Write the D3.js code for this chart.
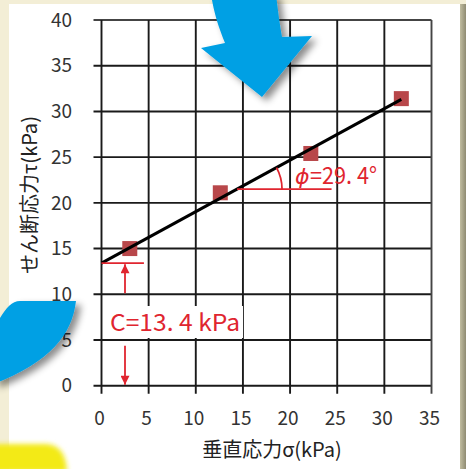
<!DOCTYPE html>
<html>
<head>
<meta charset="utf-8">
<script src="https://cdn.jsdelivr.net/npm/d3@7"></script>
<style>
  html, body { margin: 0; padding: 0; background: #f3eed6; }
  svg { display: block; }
</style>
</head>
<body>
<script>
// Direct shear test results: normal stress σ vs shear stress τ (kPa)
const sigma = [3.0, 12.6, 22.2, 31.8];
const tau = [15.0, 21.1, 25.4, 31.4];
// Mohr–Coulomb strength parameters
const cohesion = 13.4;
const phiDeg = 29.4;
const xTicks = [0, 5, 10, 15, 20, 25, 30, 35];
const yTicks = [0, 5, 10, 15, 20, 25, 30, 35, 40];
const xLabel = "垂直応力σ(kPa)";
const yLabel = "せん断応力τ(kPa)";
const phiSymbol = "ϕ";
const phiValue = "=29. 4°";
const cLabel = "C=13. 4 kPa";

const W = 466, H = 469;
const svg = d3.select("body").append("svg").attr("width", W).attr("height", H);
const defs = svg.append("defs");

const shadow = defs.append("filter").attr("id", "shadow")
  .attr("x", "-30%").attr("y", "-30%").attr("width", "170%").attr("height", "170%");
shadow.append("feDropShadow").attr("dx", 5).attr("dy", 4)
  .attr("stdDeviation", 3.5).attr("flood-color", "#000").attr("flood-opacity", 0.45);

const soft = defs.append("filter").attr("id", "soft")
  .attr("x", "-20%").attr("y", "-20%").attr("width", "140%").attr("height", "140%");
soft.append("feGaussianBlur").attr("stdDeviation", 2.5);

const edge = defs.append("linearGradient").attr("id", "edge");
edge.append("stop").attr("offset", "0%").attr("stop-color", "#c9c5a8");
edge.append("stop").attr("offset", "100%").attr("stop-color", "#8f8b72");

// page background and white panel
svg.append("rect").attr("width", W).attr("height", H).attr("fill", "#f3eed6");
svg.append("rect").attr("x", 459).attr("y", 4).attr("width", 7).attr("height", H - 4).attr("fill", "url(#edge)");
svg.append("rect").attr("x", 9).attr("y", 4).attr("width", 451).attr("height", H - 4).attr("fill", "#ffffff");

const x = d3.scaleLinear().domain([0, 35]).range([101.5, 431.5]);
const y = d3.scaleLinear().domain([0, 40]).range([385.7, 20]);

const font = "'Noto Sans CJK JP', 'Noto Sans', sans-serif";
const gridColor = "#1a1a1a";

// grid
const grid = svg.append("g");
grid.selectAll("line.h").data(yTicks).join("line")
  .attr("x1", x(0) - 8).attr("x2", x(35))
  .attr("y1", d => y(d)).attr("y2", d => y(d))
  .attr("stroke", (d) => d === 40 ? "#444" : gridColor).attr("stroke-width", 1.9);
grid.selectAll("line.v").data(xTicks).join("line")
  .attr("x1", d => x(d)).attr("x2", d => x(d))
  .attr("y1", y(40)).attr("y2", y(0) + 8)
  .attr("stroke", (d) => d === 35 ? "#444" : gridColor).attr("stroke-width", 1.9);

// tick labels
svg.append("g").selectAll("text").data(yTicks).join("text")
  .attr("x", 72).attr("y", d => y(d)).attr("dy", "0.35em")
  .attr("text-anchor", "end").attr("font-family", font).attr("font-size", 19)
  .attr("fill", "#333").text(d => d);
svg.append("g").selectAll("text").data(xTicks).join("text")
  .attr("x", d => x(d) - 2).attr("y", 418).attr("dy", "0.35em")
  .attr("text-anchor", "middle").attr("font-family", font).attr("font-size", 19)
  .attr("fill", "#333").text(d => d);

// axis titles
svg.append("text").attr("x", 272).attr("y", 450).attr("dy", "0.35em")
  .attr("text-anchor", "middle").attr("font-family", font).attr("font-size", 20)
  .attr("fill", "#222").text(xLabel);
svg.append("text").attr("transform", "translate(30,195) rotate(-90)").attr("dy", "0.35em")
  .attr("text-anchor", "middle").attr("font-family", font).attr("font-size", 20)
  .attr("fill", "#222").text(yLabel);

// test data points
svg.append("g").selectAll("rect").data(sigma.map((s, i) => [s, tau[i]])).join("rect")
  .attr("x", d => x(d[0]) - 7.5).attr("y", d => y(d[1]) - 7.5)
  .attr("width", 15).attr("height", 15).attr("fill", "#b8474a");

// failure envelope τ = c + σ tanφ
const tanPhi = Math.tan(phiDeg * Math.PI / 180);
const env = (s) => cohesion + s * tanPhi;
const lineGen = d3.line().x(d => x(d)).y(d => y(env(d)));
svg.append("path").datum([0, sigma[sigma.length - 1]])
  .attr("d", lineGen).attr("fill", "none").attr("stroke", "#000").attr("stroke-width", 3);

const red = "#e0252f";

// friction angle marker
const tauRef = 21.5;
const sRef = (tauRef - cohesion) / tanPhi;
const vx = x(sRef), vy = y(tauRef);
svg.append("line").attr("x1", vx).attr("x2", x(24.4)).attr("y1", vy).attr("y2", vy)
  .attr("stroke", red).attr("stroke-width", 1.8);
const pixAngle = Math.atan2(y(env(sRef)) - y(env(sRef + 10)), x(sRef + 10) - x(sRef));
const r = 45;
svg.append("path")
  .attr("d", `M${vx + r},${vy} A${r},${r} 0 0 0 ${vx + r * Math.cos(pixAngle)},${vy - r * Math.sin(pixAngle)}`)
  .attr("fill", "none").attr("stroke", red).attr("stroke-width", 1.8);
svg.append("text").attr("x", 295).attr("y", 184)
  .attr("font-family", "'DejaVu Sans', sans-serif").attr("font-style", "italic")
  .attr("font-size", 22).attr("fill", red).text(phiSymbol);
svg.append("text").attr("x", 310).attr("y", 184)
  .attr("font-family", font).attr("font-size", 23).attr("fill", red)
  .attr("textLength", 67).attr("lengthAdjust", "spacingAndGlyphs").text(phiValue);

// cohesion marker
svg.append("line").attr("x1", x(0)).attr("x2", x(4.5)).attr("y1", y(cohesion)).attr("y2", y(cohesion))
  .attr("stroke", red).attr("stroke-width", 1.8);
const ax = 125;
defs.append("marker").attr("id", "ah").attr("viewBox", "0 0 10 10")
  .attr("refX", 10).attr("refY", 5).attr("markerWidth", 11).attr("markerHeight", 9)
  .attr("markerUnits", "userSpaceOnUse").attr("orient", "auto")
  .append("path").attr("d", "M0,0 L10,5 L0,10 Z").attr("fill", red);
svg.append("line").attr("x1", ax).attr("x2", ax).attr("y1", y(cohesion) + 30).attr("y2", y(cohesion) + 1)
  .attr("stroke", red).attr("stroke-width", 1.8).attr("marker-end", "url(#ah)");
svg.append("line").attr("x1", ax).attr("x2", ax).attr("y1", y(0) - 40).attr("y2", y(0) - 1)
  .attr("stroke", red).attr("stroke-width", 1.8).attr("marker-end", "url(#ah)");
svg.append("rect").attr("x", 107).attr("y", 306).attr("width", 136).attr("height", 32).attr("fill", "#fff");
svg.append("text").attr("x", 110).attr("y", 331)
  .attr("font-family", font).attr("font-size", 23).attr("fill", red)
  .attr("textLength", 130).attr("lengthAdjust", "spacingAndGlyphs").text(cLabel);

// decorative overlays
const blue = "#05a0e4";
svg.append("path")
  .attr("d", "M211,-6 L276,-6 C278,12 280,26 282,37 L312,36 L262,97 L201,48 L225,43 C219,28 214,14 211,-6 Z")
  .attr("fill", blue).attr("filter", "url(#shadow)");
svg.append("path")
  .attr("d", "M-6,318 L0,318 C6,308 12,301 20,301 L76,301 C72,335 50,362 -6,384 Z")
  .attr("fill", blue).attr("filter", "url(#shadow)");
svg.append("path")
  .attr("d", "M-6,444 L44,444 C58,444 66,452 67,472 L-6,472 Z")
  .attr("fill", "#f3ea18").attr("filter", "url(#soft)");
</script>
</body>
</html>
